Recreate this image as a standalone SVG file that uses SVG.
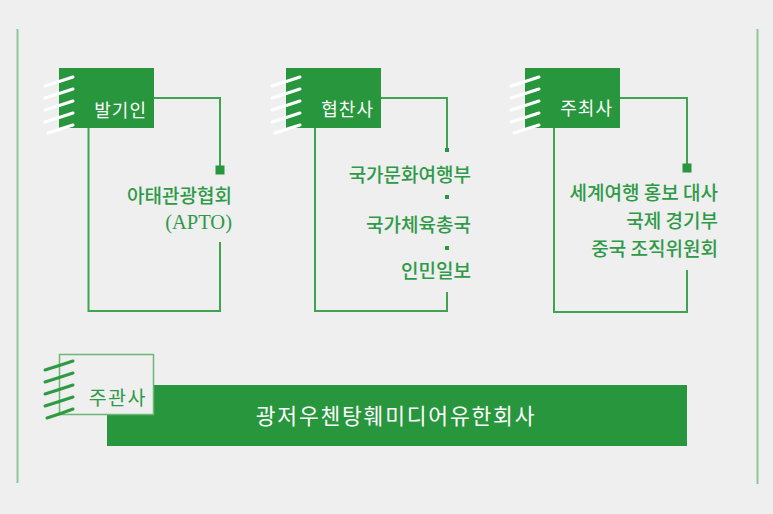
<svg xmlns="http://www.w3.org/2000/svg" width="773" height="514" viewBox="0 0 773 514">
  <style>
    .bg { fill: #efefef; }
    .frame { stroke: #8ec797; stroke-width: 2; fill: none; }
    .conn { stroke: #3fa352; stroke-width: 2; fill: none; }
    .box { fill: #27963d; }
    .hatch-w { stroke: #ffffff; stroke-width: 3; fill: none; stroke-linecap: round; }
    .hatch-g { stroke: #2d9a44; stroke-width: 3; fill: none; stroke-linecap: round; }
    .dot { fill: #27963d; }
    .head { font-family: "Noto Sans CJK KR", "Noto Sans", sans-serif; font-size: 18px; fill: #ffffff; letter-spacing: 1px; text-anchor: end; }
    .item { font-family: "Noto Sans CJK KR", "Noto Sans", sans-serif; font-size: 19px; font-weight: 500; fill: #2e9a47; text-anchor: end; }
    .latin { font-family: "Liberation Serif", "Noto Sans CJK KR", serif; font-size: 20.5px; fill: #2e9a47; text-anchor: end; }
  </style>
  <rect class="bg" x="0" y="0" width="773" height="514"/>

  <g id="frame">
    <line class="frame" x1="17.5" y1="29" x2="17.5" y2="483"/>
    <line class="frame" x1="757.5" y1="29" x2="757.5" y2="484"/>
  </g>

  <g id="connectors">
    <!-- 발기인 -->
    <polyline class="conn" points="154,98 220,98 220,168"/>
    <polyline class="conn" points="220,242 220,311 88.5,311 88.5,128"/>
    <!-- 협찬사 -->
    <polyline class="conn" points="381,98 447,98 447,150"/>
    <polyline class="conn" points="447,292 447,311 315,311 315,128"/>
    <!-- 주최사 -->
    <polyline class="conn" points="620,98 687,98 687,166"/>
    <polyline class="conn" points="687,270 687,312 554,312 554,128"/>
  </g>

  <g id="node-balgiin">
    <rect class="box" x="59" y="68" width="95" height="60"/>
    <path class="hatch-w" d="M45,86 Q58,82 73,77 M45,98 Q58,94 73,89 M45,110 Q58,106 73,101 M45,122 Q58,118 73,113 M48,133 Q60,129 73,125"/>
    <text class="head" x="147" y="117">발기인</text>
  </g>
  <g id="item-apto">
    <rect class="dot" x="215.5" y="165.5" width="9" height="9"/>
    <text class="item" x="232" y="203">아태관광협회</text>
    <text class="latin" x="232" y="229">(APTO)</text>
  </g>

  <g id="node-hyeopchansa">
    <rect class="box" x="286" y="68" width="95" height="60"/>
    <path class="hatch-w" d="M272,86 Q285,82 300,77 M272,98 Q285,94 300,89 M272,110 Q285,106 300,101 M272,122 Q285,118 300,113 M275,133 Q287,129 300,125"/>
    <text class="head" x="374" y="116">협찬사</text>
  </g>
  <g id="item-sponsors">
    <rect class="dot" x="445" y="148" width="4" height="4"/>
    <text class="item" x="471" y="182">국가문화여행부</text>
    <rect class="dot" x="445" y="195" width="4" height="4"/>
    <text class="item" x="471" y="232">국가체육총국</text>
    <rect class="dot" x="445" y="246" width="4" height="4"/>
    <text class="item" x="471" y="278">인민일보</text>
  </g>

  <g id="node-jucheosa">
    <rect class="box" x="525" y="68" width="95" height="60"/>
    <path class="hatch-w" d="M511,86 Q524,82 539,77 M511,98 Q524,94 539,89 M511,110 Q524,106 539,101 M511,122 Q524,118 539,113 M514,133 Q526,129 539,125"/>
    <text class="head" x="613" y="115">주최사</text>
  </g>
  <g id="item-hosts">
    <rect class="dot" x="682.5" y="163.5" width="9" height="9"/>
    <text class="item" x="718" y="200">세계여행 홍보 대사</text>
    <text class="item" x="718" y="228">국제 경기부</text>
    <text class="item" x="718" y="256">중국 조직위원회</text>
  </g>

  <g id="node-jugwansa">
    <rect class="box" x="107" y="385" width="580" height="61"/>
    <rect x="59.5" y="354.5" width="94" height="60" fill="#efefef" stroke="#6cb778" stroke-width="1.5"/>
    <path class="hatch-g" d="M45,370 Q58,366 73,361 M45,382 Q58,378 73,373 M45,394 Q58,390 73,385 M45,406 Q58,402 73,397 M47,418 Q60,414 73,409"/>
    <text x="147" y="405" font-family="Noto Sans CJK KR, Noto Sans, sans-serif" font-size="19.5" fill="#2e9a47" letter-spacing="1.5" text-anchor="end">주관사</text>
    <text x="396" y="424" font-family="Noto Sans CJK KR, Noto Sans, sans-serif" font-size="21.5" fill="#ffffff" letter-spacing="1.8" text-anchor="middle">광저우첸탕훼미디어유한회사</text>
  </g>
</svg>
